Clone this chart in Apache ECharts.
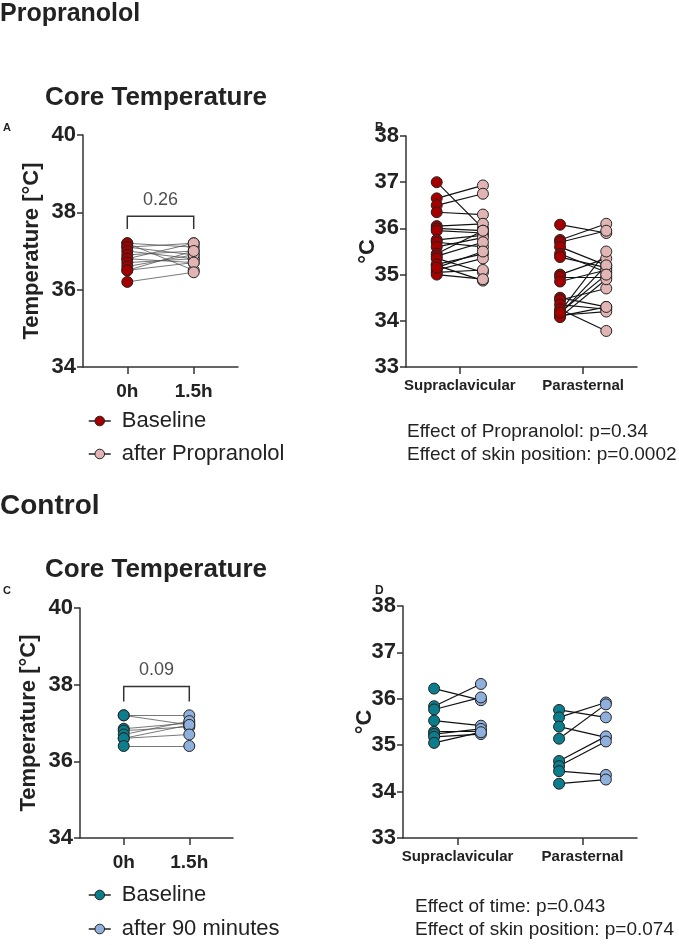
<!DOCTYPE html>
<html>
<head>
<meta charset="utf-8">
<script src="https://cdn.jsdelivr.net/npm/echarts@6/dist/echarts.min.js"></script>
<style>
  html, body { margin: 0; padding: 0; background: #fff; }
  #chart { width: 679px; height: 945px; }
</style>
</head>
<body>
<div id="chart"></div>
<script>
// categories / tick labels
const timeLabels = ['0h', '1.5h'];
const siteLabels = ['Supraclavicular', 'Parasternal'];

// Propranolol: core temperature (paired, same index = same subject)
const coreProp0 = [37.2, 37.2, 37.1, 37.1, 37.0, 36.9, 36.8, 36.8, 36.7, 36.6, 36.5, 36.5, 36.2];
const coreProp1 = [37.1, 36.5, 37.2, 36.9, 36.8, 37.0, 36.7, 37.2, 36.8, 36.9, 36.7, 37.0, 36.45];
// Propranolol: skin temperature
const supraProp0 = [37.0, 36.65, 36.5, 36.35, 36.05, 36.0, 35.95, 35.75, 35.7, 35.6, 35.45, 35.4, 35.35, 35.2, 35.22, 35.1, 35.05, 35.0, 35.15];
const supraProp1 = [36.0, 36.93, 36.75, 36.3, 36.1, 35.95, 35.9, 35.85, 35.6, 35.8, 35.95, 35.7, 35.05, 34.87, 35.45, 35.35, 35.1, 34.9, 35.5];
const paraProp0 = [36.08, 35.75, 35.7, 35.6, 35.45, 35.38, 35.0, 34.95, 34.85, 34.5, 34.45, 34.35, 34.2, 34.15, 34.12, 34.1, 34.25, 34.08, 34.18];
const paraProp1 = [35.9, 36.1, 35.95, 35.2, 35.05, 35.15, 35.35, 34.95, 35.1, 34.3, 34.7, 34.25, 35.5, 35.2, 34.2, 34.3, 33.78, 34.9, 35.0];

// Control: core temperature
const coreCtrl0 = [37.2, 37.2, 36.85, 36.8, 36.7, 36.6, 36.6, 36.4];
const coreCtrl1 = [37.2, 36.95, 37.0, 36.9, 37.05, 36.95, 36.7, 36.4];
// Control: skin temperature
const supraCtrl0 = [36.22, 35.84, 35.77, 35.53, 35.29, 35.24, 35.18, 35.05];
const supraCtrl1 = [35.97, 36.32, 36.03, 35.42, 35.3, 35.35, 35.24, 35.28];
const paraCtrl0 = [35.76, 35.6, 35.4, 35.14, 34.66, 34.55, 34.44, 34.17];
const paraCtrl1 = [35.6, 35.92, 35.17, 35.88, 35.19, 35.08, 34.36, 34.26];

const pCoreProp = '0.26';
const pCoreCtrl = '0.09';

const RED = '#a50000', PINK = '#e2b5b5', TEAL = '#0b7d8c', BLUE = '#8fb0dc';
const FONT = 'Liberation Sans, Arial, Helvetica, sans-serif';
const INK = '#222';

function pairs(a, b, x0, x1) {
  return a.map((v, i) => ({ coords: [[x0, v], [x1, b[i]]] }));
}
function pts(a, x) {
  return a.map(v => [x, v]);
}

function xAxisFor(grid, max, ticks, labels, fontSize, margin) {
  return {
    gridIndex: grid, type: 'value', min: 0, max: max,
    axisLine: { show: true, onZero: false, lineStyle: { color: '#333', width: 1.5 } },
    axisTick: { show: true, customValues: ticks, length: 7, lineStyle: { color: '#333', width: 1.5 } },
    axisLabel: {
      customValues: ticks, margin: margin, color: INK, fontWeight: 'bold', fontSize: fontSize, fontFamily: FONT,
      formatter: v => labels[ticks.indexOf(v)]
    },
    splitLine: { show: false }
  };
}
function yAxisFor(grid, min, max, interval, name, nameGap) {
  return {
    gridIndex: grid, type: 'value', min: min, max: max, interval: interval,
    name: name, nameLocation: 'middle', nameGap: nameGap, nameMoveOverlap: false,
    nameTextStyle: { color: INK, fontWeight: 'bold', fontSize: 22, fontFamily: FONT },
    axisLine: { show: true, lineStyle: { color: '#333', width: 1.5 } },
    axisTick: { show: true, length: 6, lineStyle: { color: '#333', width: 1.5 } },
    axisLabel: { color: INK, fontWeight: 'bold', fontSize: 22, fontFamily: FONT, margin: 7 },
    splitLine: { show: false }
  };
}

function pointSeries(name, data, grid, color) {
  return {
    name: name, type: 'line', xAxisIndex: grid, yAxisIndex: grid, data: data,
    symbol: 'circle', symbolSize: 11, showSymbol: true,
    lineStyle: { opacity: 0 },
    itemStyle: { color: color, borderColor: INK, borderWidth: 1 },
    emphasis: { disabled: true }, z: 5
  };
}
function pairSeries(data, grid, width, color) {
  return {
    type: 'lines', coordinateSystem: 'cartesian2d', xAxisIndex: grid, yAxisIndex: grid,
    data: data, lineStyle: { color: color, width: width, opacity: 1 }, z: 3, silent: true
  };
}
function bracketSeries(grid, lo, hi, label, labelY) {
  return [{
    type: 'lines', coordinateSystem: 'cartesian2d', polyline: true, xAxisIndex: grid, yAxisIndex: grid,
    data: [{ coords: [[1, lo], [1, hi], [2.5, hi], [2.5, lo]] }],
    lineStyle: { color: '#333', width: 1.5, opacity: 1 }, silent: true
  }, {
    type: 'scatter', xAxisIndex: grid, yAxisIndex: grid, symbolSize: 0, silent: true,
    data: [[1.75, labelY]],
    label: { show: true, position: 'inside', formatter: label, color: INK, fontSize: 18, fontFamily: FONT }
  }];
}
function legendFor(top, gap, names, colors) {
  return {
    orient: 'vertical', left: 88, top: top, padding: 0, height: 70,
    itemWidth: 22, itemHeight: 12, itemGap: gap,
    selectedMode: false,
    textStyle: { color: INK, fontSize: 22, lineHeight: 22, fontFamily: FONT, padding: [0, 0, 0, 6] },
    data: names.map((n, i) => ({
      name: n,
      itemStyle: { color: colors[i], borderColor: INK, borderWidth: 1 },
      lineStyle: { color: INK, width: 1.5, opacity: 1 }
    }))
  };
}

const chart = echarts.init(document.getElementById('chart'));

const titleStyle = (size) => ({ color: INK, fontWeight: 'bold', fontSize: size, fontFamily: FONT });
const noteStyle = { color: INK, fontWeight: 'normal', fontSize: 19, fontFamily: FONT, lineHeight: 23 };

chart.setOption({
  animation: false,
  title: [
    { text: 'Propranolol', left: 0, top: 2, padding: 0, textStyle: titleStyle(25) },
    { text: 'Core Temperature', left: 45, top: 85, padding: 0, textStyle: titleStyle(26) },
    { text: 'A', left: 3, top: 122, padding: 0, textStyle: titleStyle(11) },
    { text: 'B', left: 375, top: 122, padding: 0, textStyle: titleStyle(12) },
    { text: 'Effect of Propranolol: p=0.34\nEffect of skin position: p=0.0002', left: 407, top: 420, padding: 0, textStyle: noteStyle },
    { text: 'Control', left: 0, top: 492, padding: 0, textStyle: titleStyle(28) },
    { text: 'Core Temperature', left: 45, top: 557, padding: 0, textStyle: titleStyle(26) },
    { text: 'C', left: 3, top: 585, padding: 0, textStyle: titleStyle(11) },
    { text: 'D', left: 375, top: 585, padding: 0, textStyle: titleStyle(12) },
    { text: 'Effect of time: p=0.043\nEffect of skin position: p=0.074', left: 415, top: 895, padding: 0, textStyle: noteStyle }
  ],
  legend: [
    legendFor(410, 11, ['Baseline', 'after Propranolol'], [RED, PINK]),
    legendFor(884, 12, ['Baseline', 'after 90 minutes'], [TEAL, BLUE])
  ],
  grid: [
    { left: 83, top: 135, width: 155, height: 232 },
    { left: 406, top: 136, width: 231, height: 231 },
    { left: 80, top: 608, width: 153, height: 230 },
    { left: 403, top: 606, width: 234, height: 232 }
  ],
  xAxis: [
    xAxisFor(0, 3.5, [1, 2.5], timeLabels, 19, 15),
    xAxisFor(1, 10, [2.33, 7.67], siteLabels, 15, 11),
    xAxisFor(2, 3.5, [1, 2.5], timeLabels, 19, 15),
    xAxisFor(3, 10, [2.33, 7.67], siteLabels, 15, 11)
  ],
  yAxis: [
    yAxisFor(0, 34, 40, 2, 'Temperature [°C]', 40),
    yAxisFor(1, 33, 38, 1, '°C', 27),
    yAxisFor(2, 34, 40, 2, 'Temperature [°C]', 40),
    yAxisFor(3, 33, 38, 1, '°C', 27)
  ],
  series: [
    // A
    pairSeries(pairs(coreProp0, coreProp1, 1, 2.5), 0, 0.8, '#555'),
    pointSeries('Baseline', pts(coreProp0, 1), 0, RED),
    pointSeries('after Propranolol', pts(coreProp1, 2.5), 0, PINK),
    ...bracketSeries(0, 37.57, 37.9, pCoreProp, 38.32),
    // B
    pairSeries(pairs(supraProp0, supraProp1, 1.33, 3.33), 1, 1.2, '#111'),
    pairSeries(pairs(paraProp0, paraProp1, 6.67, 8.67), 1, 1.2, '#111'),
    pointSeries('Baseline', pts(supraProp0, 1.33).concat(pts(paraProp0, 6.67)), 1, RED),
    pointSeries('after Propranolol', pts(supraProp1, 3.33).concat(pts(paraProp1, 8.67)), 1, PINK),
    // C
    pairSeries(pairs(coreCtrl0, coreCtrl1, 1, 2.5), 2, 0.8, '#555'),
    pointSeries('Baseline', pts(coreCtrl0, 1), 2, TEAL),
    pointSeries('after 90 minutes', pts(coreCtrl1, 2.5), 2, BLUE),
    ...bracketSeries(2, 37.56, 37.95, pCoreCtrl, 38.39),
    // D
    pairSeries(pairs(supraCtrl0, supraCtrl1, 1.33, 3.33), 3, 1.2, '#111'),
    pairSeries(pairs(paraCtrl0, paraCtrl1, 6.67, 8.67), 3, 1.2, '#111'),
    pointSeries('Baseline', pts(supraCtrl0, 1.33).concat(pts(paraCtrl0, 6.67)), 3, TEAL),
    pointSeries('after 90 minutes', pts(supraCtrl1, 3.33).concat(pts(paraCtrl1, 8.67)), 3, BLUE)
  ]
});
</script>
</body>
</html>
